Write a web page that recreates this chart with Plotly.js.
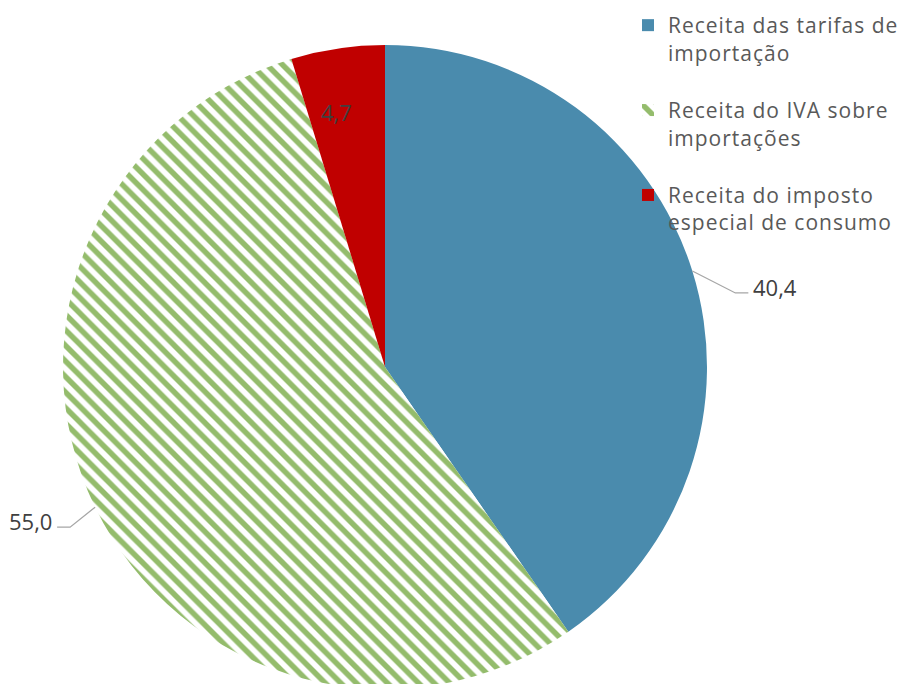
<!DOCTYPE html>
<html>
<head>
<meta charset="utf-8">
<script src="https://cdn.plot.ly/plotly-3.0.1.min.js"></script>
<style>
html,body{margin:0;padding:0;overflow:hidden;background:#fff;}
#chart{width:900px;height:694px;}
.legendtext{letter-spacing:1px;}
</style>
</head>
<body>
<div id="chart"></div>
<script>
var categories = [
  "Receita das tarifas de<br>importação",
  "Receita do IVA sobre<br>importações",
  "Receita do imposto<br>especial de consumo"
];
var values = [40.4, 55.0, 4.7];
var valueLabels = ["40,4", "55,0", "4,7"];
var colors = ["#4A8BAD", "#94BC6C", "#C00000"];

var W = 900, H = 694;
var dom = {x: [63/900, 707/900], y: [5/694, 649/694]};
var cx = (dom.x[0] + dom.x[1]) / 2 * W;
var cy = H - (dom.y[0] + dom.y[1]) / 2 * H;
var R = (dom.x[1] - dom.x[0]) * W / 2;

// label layout (offsets in px, like the original's label placement)
var labelMode = ["outside", "outside", "inside"];
var labelOffset = [[83, 16], [-65, 14], [0, 0]];

var total = values.reduce(function(a, b){ return a + b; }, 0);
var annotations = [], shapes = [];
var cum = 0;
for (var i = 0; i < values.length; i++) {
  var mid = (cum + values[i] / 2) / total * 2 * Math.PI;
  cum += values[i];
  var sx = Math.sin(mid), sy = -Math.cos(mid);
  if (labelMode[i] === "outside") {
    var ex = cx + R * sx, ey = cy + R * sy;
    var tx = ex + labelOffset[i][0], ty = ey + labelOffset[i][1];
    var dirx = labelOffset[i][0] > 0 ? 1 : -1;
    var elbowX = tx - dirx * 40, endX = tx - dirx * 27;
    var lineY = ty + 6;
    shapes.push({
      type: "path", xref: "paper", yref: "paper",
      path: "M" + (ex / W) + "," + (1 - ey / H) +
            " L" + (elbowX / W) + "," + (1 - lineY / H) +
            " L" + (endX / W) + "," + (1 - lineY / H),
      line: {color: "#A6A6A6", width: 1.3}
    });
    annotations.push({
      xref: "paper", yref: "paper", x: tx / W, y: 1 - ty / H,
      xanchor: "center", yanchor: "middle", showarrow: false,
      text: valueLabels[i],
      font: {family: "Open Sans, sans-serif", size: 22, color: "#404040"}
    });
  } else {
    var f = 0.805;
    var ix = cx + R * f * Math.sin(mid - 0.04), iy = cy - R * f * Math.cos(mid - 0.04);
    annotations.push({
      xref: "paper", yref: "paper", x: ix / W, y: 1 - iy / H,
      xanchor: "center", yanchor: "middle", showarrow: false,
      text: valueLabels[i],
      font: {family: "Open Sans, sans-serif", size: 22, color: "#404040"}
    });
  }
}

var trace = {
  type: "pie",
  labels: categories.map(function(c){ return c + "<br>\u00a0"; }),
  values: values,
  sort: false,
  direction: "clockwise",
  rotation: 0,
  textinfo: "none",
  marker: {
    colors: colors,
    line: {width: 0, color: "#ffffff"},
    pattern: {
      shape: ["", "\\", ""],
      fgcolor: colors,
      bgcolor: ["#4A8BAD", "#ffffff", "#C00000"],
      fillmode: "replace",
      fgopacity: 1,
      size: 11,
      solidity: 0.5
    }
  },
  domain: dom,
  hoverinfo: "none",
  automargin: false
};

var layout = {
  width: W,
  height: H,
  margin: {l: 0, r: 0, t: 0, b: 0, autoexpand: false},
  paper_bgcolor: "#ffffff",
  separators: ", ",
  showlegend: true,
  legend: {
    x: 628/900,
    y: 1 - 5/694,
    xanchor: "left",
    yanchor: "top",
    valign: "top",
    font: {family: "Open Sans, sans-serif", size: 21, color: "#595959"},
    bgcolor: "rgba(0,0,0,0)"
  },
  annotations: annotations,
  shapes: shapes,
  font: {family: "Open Sans, sans-serif"}
};

Plotly.newPlot("chart", [trace], layout, {displayModeBar: false, staticPlot: true});
</script>
</body>
</html>
